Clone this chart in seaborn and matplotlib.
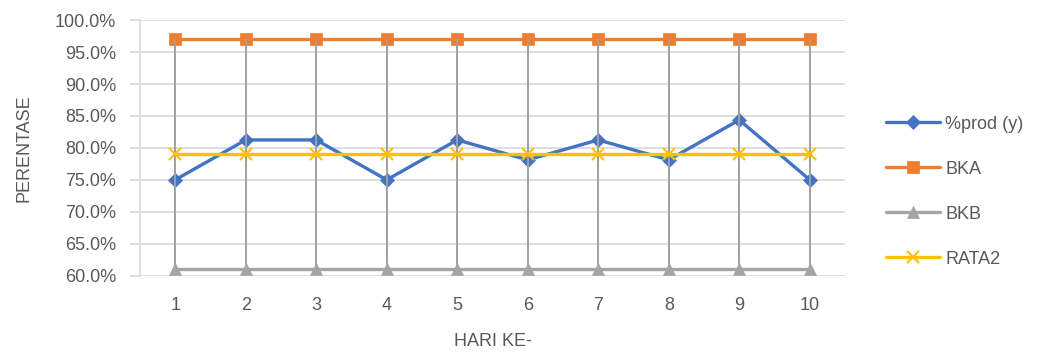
import numpy as np
import pandas as pd
import matplotlib
matplotlib.use("Agg")
import matplotlib.pyplot as plt
import seaborn as sns
from matplotlib.ticker import FuncFormatter, MultipleLocator

# Daily production percentage with control limits and average
days = [1, 2, 3, 4, 5, 6, 7, 8, 9, 10]
prod = [75.0, 81.25, 81.25, 75.0, 81.25, 78.125, 81.25, 78.125, 84.375, 75.0]
bka = [97.0] * 10
bkb = [61.0] * 10
rata2 = [79.06] * 10
series_names = ["%prod (y)", "BKA", "BKB", "RATA2"]

sns.set_theme(style="white")
plt.rcParams["font.family"] = ["Liberation Sans", "DejaVu Sans"]

text_color = "#595959"
grid_color = "#D9D9D9"
fs = 13

fig = plt.figure(figsize=(10.39, 3.53), dpi=100)
ax = fig.add_axes([0.1347, 0.219, 0.6786, 0.724])

df = pd.DataFrame({"day": days, "pos": np.arange(len(days)),
                   "prod": prod, "bka": bka, "bkb": bkb, "rata2": rata2})

# high-low lines between the two limits
ax.vlines(df["pos"], df["bkb"], df["bka"], color="#A0A0A0", lw=1.4, zorder=2.5)

styles = [
    ("prod", "#4472C4", "D", 7, 2),
    ("bka", "#ED7D31", "s", 8, 2),
    ("bkb", "#A5A5A5", "^", 8, 3),
    ("rata2", "#FFC000", "x", 9, 3),
]
for (col, color, marker, ms, z), name in zip(styles, series_names):
    sns.lineplot(data=df, x="pos", y=col, ax=ax, color=color, lw=2.4,
                 marker=marker, markersize=ms, markeredgecolor=color,
                 markeredgewidth=1.5 if marker == "x" else 0.5,
                 label=name, zorder=z)

ax.set_xlim(-0.5, len(days) - 0.5)
ax.set_ylim(60, 100)
ax.yaxis.set_major_locator(MultipleLocator(5))
ax.yaxis.set_major_formatter(FuncFormatter(lambda v, p: f"{v:.1f}%"))
ax.set_xticks(df["pos"])
ax.set_xticklabels([str(d) for d in days])

ax.grid(axis="y", color=grid_color, lw=1.2)
ax.grid(axis="x", visible=False)
for side in ["top", "right", "bottom"]:
    ax.spines[side].set_visible(False)
ax.spines["left"].set_color(grid_color)
ax.spines["left"].set_linewidth(1.2)

ax.tick_params(axis="y", length=7, width=1.2, color=grid_color,
               labelsize=fs, labelcolor=text_color, pad=10, left=True)
ax.tick_params(axis="x", length=0, labelsize=fs, labelcolor=text_color, pad=15)

ax.set_xlabel("HARI KE-", fontsize=fs, color=text_color, labelpad=14)
ax.set_ylabel("PERENTASE", fontsize=fs, color=text_color, labelpad=16)

ax.legend(loc="upper left", bbox_to_anchor=(0.837, 0.718),
          bbox_transform=fig.transFigure, frameon=False, fontsize=fs,
          labelcolor=text_color, handlelength=3.0, handletextpad=0.3,
          labelspacing=1.55)

fig.savefig("out.png", dpi=100)
